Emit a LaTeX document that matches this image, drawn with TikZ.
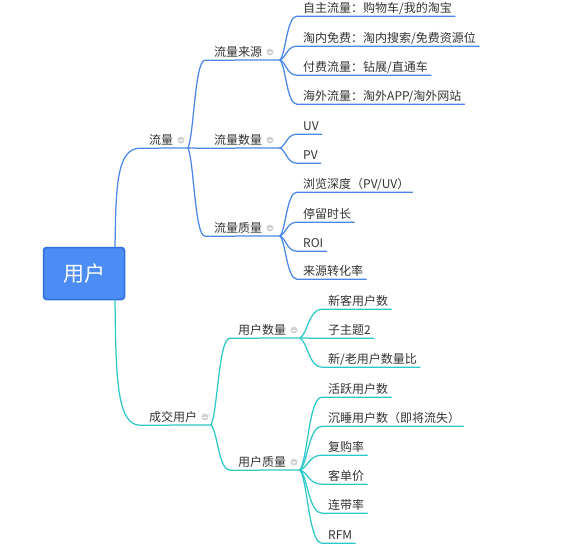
\documentclass[tikz,border=0pt]{standalone}
\usepackage{fontspec}
\setmainfont{Noto Sans CJK SC}
\usetikzlibrary{calc}
\definecolor{mmblue}{HTML}{4A86E8}
\definecolor{mmcyan}{HTML}{2CC8C8}
\definecolor{rootfill}{HTML}{4C8DF5}
\definecolor{rootdraw}{HTML}{2F6ED8}
\definecolor{txt}{HTML}{333333}
\definecolor{foldgray}{HTML}{D2D2D2}
\begin{document}
\begin{tikzpicture}[x=1pt,y=-1pt,
  lbl/.style={anchor=base west, inner xsep=0pt, inner ysep=0pt, text height=9pt, text depth=3.5pt, font=\fontsize{12}{14}\selectfont, text=txt},
  rootbox/.style={draw=rootdraw, fill=rootfill, line width=1.5pt, rounded corners=3pt, minimum width=81pt, minimum height=52pt, text=white, font=\fontsize{21}{25}\selectfont},
  fold/.style={circle, minimum size=7pt, inner sep=0pt, fill=foldgray, path picture={\draw[white, line width=0.9pt] ([xshift=-1.8pt]path picture bounding box.center) -- ([xshift=1.8pt]path picture bounding box.center);}},
  link/.style={line width=1.25pt, line cap=round, line join=round},
  mm/.style={to path={let \p1=(\tikztostart), \p2=(\tikztotarget) in .. controls ({\x1+0.35*(\x2-\x1)},{\y1+0.15*(\y2-\y1)}) and ({\x1+0.4*(\x2-\x1)},{\y2}) .. (\tikztotarget)}},
  mmroot/.style={to path={let \p1=(\tikztostart), \p2=(\tikztotarget) in .. controls ({\x1+0.04*(\x2-\x1)},{\y1+0.58*(\y2-\y1)}) and ({\x1+0.04*(\x2-\x1)},{\y2}) .. (\tikztotarget)}}
]
\useasboundingbox (0,0) rectangle (562,552);

% root
\node[rootbox] (root) at (84,273.5) {用户};
\coordinate (rt) at ([xshift=31pt]root.north);
\coordinate (rb) at ([xshift=31pt]root.south);

% level 1
\node[lbl] (ll) at (149,144.5) {流量};
\node[lbl] (cj) at (149,421.5) {成交用户};
\coordinate (b-ll) at (188,148);
\coordinate (b-cj) at (211,425);

% level 2
\node[lbl] (src) at (214,56.5) {流量来源};
\node[lbl] (qty) at (214,144.5) {流量数量};
\node[lbl] (qlt) at (214,232.5) {流量质量};
\coordinate (b-src) at (280,60);
\coordinate (b-qty) at (280,148);
\coordinate (b-qlt) at (280,236);
\node[lbl] (usq) at (238,334.5) {用户数量};
\node[lbl] (usl) at (238,466.5) {用户质量};
\coordinate (b-usq) at (300,338);
\coordinate (b-usl) at (300,470);

% leaves
\node[lbl] (s1) at (303,12.5) {自主流量：购物车/我的淘宝};
\node[lbl] (s2) at (303,42.5) {淘内免费：淘内搜索/免费资源位};
\node[lbl] (s3) at (303,71.5) {付费流量：钻展/直通车};
\node[lbl] (s4) at (303,100.5) {海外流量：淘外APP/淘外网站};
\node[lbl] (q1) at (303,130.5) {UV};
\node[lbl] (q2) at (303,159.5) {PV};
\node[lbl] (m1) at (303,188.5) {浏览深度（PV/UV）};
\node[lbl] (m2) at (303,218.5) {停留时长};
\node[lbl] (m3) at (303,247.5) {ROI};
\node[lbl] (m4) at (303,275.5) {来源转化率};
\node[lbl] (u1) at (328,305.5) {新客用户数};
\node[lbl] (u2) at (328,334.5) {子主题2};
\node[lbl] (u3) at (328,363.5) {新/老用户数量比};
\node[lbl] (v1) at (328,393.5) {活跃用户数};
\node[lbl] (v2) at (328,422.5) {沉睡用户数（即将流失）};
\node[lbl] (v3) at (328,451.5) {复购率};
\node[lbl] (v4) at (328,480.5) {客单价};
\node[lbl] (v5) at (328,509.5) {连带率};
\node[lbl] (v6) at (328,539.5) {RFM};

% connectors
\draw[link, mmblue] (rt) to[mmroot] ([xshift=-9pt]ll.south west) -- (b-ll);
\draw[link, mmcyan] (rb) to[mmroot] ([xshift=-9pt]cj.south west) -- (b-cj);
\foreach \n in {src,qty,qlt}
  \draw[link, mmblue] (b-ll) to[mm] ([xshift=-9pt]\n.south west) -- (b-\n);
\foreach \n in {usq,usl}
  \draw[link, mmcyan] (b-cj) to[mm] ([xshift=-8pt]\n.south west) -- (b-\n);
\foreach \n/\b in {s1/src,s2/src,s3/src,s4/src,q1/qty,q2/qty,m1/qlt,m2/qlt,m3/qlt,m4/qlt}
  \draw[link, mmblue] (b-\b) to[mm] ([xshift=-6pt]\n.south west) -- ([xshift=3pt]\n.south east);
\foreach \n/\b in {u1/usq,u2/usq,u3/usq,v1/usl,v2/usl,v3/usl,v4/usl,v5/usl,v6/usl}
  \draw[link, mmcyan] (b-\b) to[mm] ([xshift=-6pt]\n.south west) -- ([xshift=3pt]\n.south east);

% fold markers
\foreach \n in {ll,cj,src,qty,qlt,usq,usl}
  \node[fold] (f-\n) at ([xshift=7.5pt,yshift=4.5pt]\n.base east) {};
\end{tikzpicture}
\end{document}
